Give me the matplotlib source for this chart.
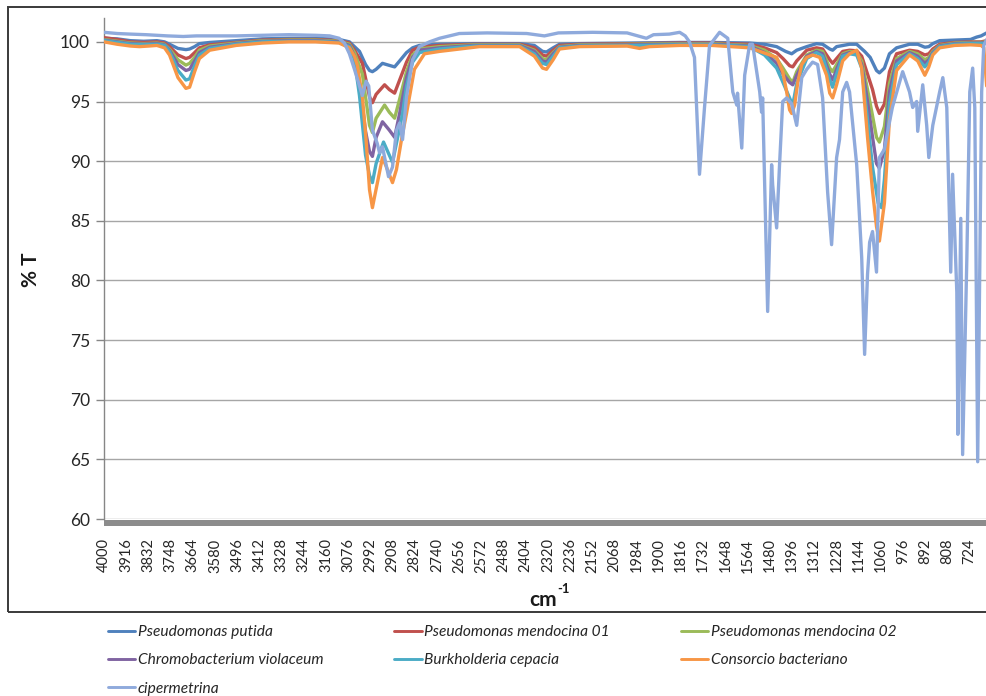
import matplotlib
matplotlib.use("Agg")
import matplotlib.pyplot as plt
from matplotlib.patches import Rectangle
import matplotlib.transforms as mtransforms

# ---------------- data: FTIR transmittance (%T) vs wavenumber (cm^-1) ----------------
wn_putida = [4000, 3950, 3900, 3850, 3800, 3771, 3752, 3720, 3690, 3676, 3657, 3639, 3600, 3500,
             3400, 3300, 3200, 3110, 3071, 3052, 3033, 3010, 2995, 2984, 2970, 2946, 2931, 2900,
             2881, 2855, 2832, 2806, 2730, 2600, 2427, 2371, 2340, 2325, 2300, 2276, 2200, 2000,
             1821, 1700, 1556, 1500, 1454, 1420, 1397, 1378, 1340, 1303, 1280, 1253, 1242, 1227,
             1178, 1151, 1121, 1100, 1076, 1065, 1046, 1027, 1000, 951, 920, 893, 878, 863, 837,
             780, 720, 697, 680, 659]
t_putida = [100.3, 100.25, 100.1, 100.05, 100.1, 100.0, 99.8, 99.45, 99.35, 99.4, 99.6, 99.85, 99.95, 100.1,
            100.25, 100.3, 100.3, 100.2, 100.0, 99.6, 99.2, 98.1, 97.6, 97.5, 97.7, 98.2, 98.1, 97.9,
            98.4, 99.1, 99.5, 99.7, 99.8, 99.85, 99.85, 99.7, 99.2, 99.15, 99.5, 99.8, 99.85, 99.9,
            99.95, 99.95, 99.9, 99.8, 99.6, 99.2, 99.0, 99.3, 99.6, 99.85, 99.8, 99.4, 99.3, 99.6,
            99.8, 99.8, 99.2, 98.7, 97.6, 97.4, 97.8, 99.0, 99.5, 99.8, 99.8, 99.55, 99.6, 99.85, 100.1,
            100.15, 100.2, 100.4, 100.5, 100.75]

wn_mend01 = [4000, 3950, 3900, 3850, 3800, 3771, 3752, 3720, 3690, 3676, 3657, 3639, 3600, 3500,
             3400, 3300, 3200, 3110, 3071, 3052, 3022, 2995, 2984, 2970, 2938, 2920, 2900, 2881,
             2855, 2832, 2806, 2730, 2600, 2427, 2371, 2340, 2325, 2300, 2276, 2200, 2000, 1821,
             1700, 1556, 1500, 1454, 1430, 1405, 1393, 1378, 1340, 1303, 1280, 1253, 1242, 1227,
             1204, 1178, 1151, 1132, 1110, 1091, 1076, 1065, 1046, 1027, 1000, 951, 920, 893, 878,
             863, 837, 780, 720, 680, 659]
t_mend01 = [100.35, 100.2, 100.0, 99.95, 100.0, 99.9, 99.6, 98.9, 98.6, 98.7, 99.1, 99.5, 99.75, 99.95,
            100.15, 100.2, 100.2, 100.1, 99.9, 99.3, 98.2, 95.4, 94.9, 95.6, 96.4, 96.0, 95.7, 96.8,
            98.3, 99.3, 99.55, 99.7, 99.8, 99.8, 99.5, 98.9, 98.8, 99.3, 99.7, 99.8, 99.85, 99.9,
            99.9, 99.8, 99.5, 99.1, 98.6, 98.0, 97.9, 98.4, 99.3, 99.5, 99.4, 98.5, 98.2, 98.6,
            99.2, 99.3, 99.25, 98.8, 97.3, 96.0, 94.6, 94.0, 94.8, 97.5, 99.0, 99.3, 99.2, 98.9, 99.0,
            99.4, 99.8, 99.95, 100.0, 100.0, 100.1]

wn_mend02 = [4000, 3900, 3850, 3800, 3771, 3752, 3720, 3690, 3676, 3657, 3639, 3600, 3500, 3400,
             3300, 3200, 3110, 3071, 3052, 3022, 2995, 2984, 2970, 2938, 2920, 2900, 2881, 2855,
             2832, 2806, 2730, 2600, 2427, 2371, 2340, 2325, 2300, 2276, 2200, 2000, 1821, 1700,
             1556, 1500, 1454, 1430, 1405, 1393, 1378, 1340, 1303, 1280, 1253, 1242, 1227, 1204,
             1178, 1151, 1132, 1110, 1091, 1076, 1065, 1046, 1027, 1000, 951, 920, 893, 878, 863,
             837, 780, 720, 680, 659]
t_mend02 = [100.2, 99.9, 99.85, 99.9, 99.8, 99.4, 98.5, 98.05, 98.2, 98.7, 99.3, 99.65, 99.9, 100.1,
            100.15, 100.15, 100.05, 99.8, 99.1, 97.3, 93.0, 92.4, 93.6, 94.7, 94.1, 93.6, 95.2, 97.5,
            98.9, 99.4, 99.6, 99.75, 99.75, 99.3, 98.6, 98.5, 99.1, 99.6, 99.75, 99.8, 99.85, 99.85,
            99.7, 99.3, 98.6, 97.8, 96.9, 96.6, 97.5, 98.9, 99.3, 99.2, 97.8, 97.5, 98.1, 99.0,
            99.2, 99.1, 98.4, 96.0, 93.8, 92.0, 91.6, 92.9, 96.5, 98.6, 99.2, 99.0, 98.5, 98.7, 99.2,
            99.7, 99.9, 99.95, 99.95, 100.0]

wn_chromo = [4000, 3900, 3850, 3800, 3771, 3752, 3720, 3690, 3676, 3657, 3639, 3600, 3500, 3400,
             3300, 3200, 3110, 3071, 3052, 3033, 3010, 2995, 2984, 2970, 2946, 2920, 2900, 2881,
             2855, 2832, 2806, 2730, 2600, 2427, 2371, 2340, 2325, 2300, 2276, 2200, 2000, 1821,
             1700, 1556, 1500, 1454, 1430, 1405, 1393, 1378, 1340, 1303, 1280, 1253, 1242, 1227,
             1204, 1178, 1151, 1132, 1110, 1091, 1076, 1065, 1046, 1027, 1000, 951, 920, 893, 878,
             863, 837, 780, 720, 680, 659]
t_chromo = [100.15, 99.85, 99.8, 99.85, 99.75, 99.3, 98.1, 97.6, 97.7, 98.4, 99.1, 99.55, 99.85, 100.05,
            100.1, 100.1, 100.0, 99.7, 98.8, 96.5, 92.5, 90.8, 90.4, 92.0, 93.3, 92.6, 92.0, 94.0,
            97.0, 98.7, 99.3, 99.5, 99.7, 99.7, 99.2, 98.4, 98.3, 99.0, 99.55, 99.7, 99.75, 99.8,
            99.8, 99.65, 99.1, 98.2, 97.3, 96.6, 96.4, 97.2, 98.8, 99.2, 99.0, 97.3, 96.8, 97.7,
            98.9, 99.1, 99.0, 98.1, 95.0, 92.0, 89.8, 89.4, 91.0, 95.8, 98.4, 99.1, 98.8, 98.2, 98.5,
            99.1, 99.65, 99.85, 99.9, 99.9, 99.95]

wn_burk = [4000, 3900, 3850, 3800, 3771, 3752, 3720, 3690, 3676, 3657, 3639, 3600, 3500, 3400,
           3300, 3200, 3110, 3071, 3052, 3033, 3010, 2995, 2984, 2970, 2942, 2920, 2908, 2893,
           2870, 2855, 2832, 2806, 2730, 2600, 2427, 2371, 2340, 2325, 2300, 2276, 2200, 2000,
           1821, 1700, 1556, 1500, 1454, 1430, 1405, 1393, 1378, 1340, 1303, 1280, 1253, 1242,
           1227, 1204, 1178, 1151, 1132, 1110, 1091, 1070, 1057, 1046, 1027, 1000, 951, 920, 893,
           878, 863, 837, 780, 720, 680, 659]
t_burk = [100.1, 99.8, 99.75, 99.8, 99.7, 99.2, 97.6, 96.8, 96.9, 98.0, 98.9, 99.45, 99.8, 100.0,
          100.05, 100.05, 99.95, 99.6, 98.5, 95.5, 90.5, 88.8, 88.2, 89.8, 91.6, 90.5, 89.9, 91.5,
          94.0, 96.3, 98.3, 99.1, 99.4, 99.65, 99.65, 99.0, 98.2, 98.1, 98.8, 99.5, 99.65, 99.7,
          99.75, 99.75, 99.6, 98.9, 97.8, 96.6, 95.3, 94.7, 96.5, 98.6, 99.1, 98.8, 96.8, 96.2,
          97.3, 98.8, 99.0, 98.9, 97.8, 93.5, 89.5, 86.5, 86.1, 88.5, 94.8, 98.1, 99.0, 98.6, 97.9,
          98.3, 99.0, 99.6, 99.8, 99.85, 99.85, 99.9]

wn_consorcio = [4000, 3950, 3900, 3866, 3830, 3800, 3771, 3752, 3720, 3690, 3676, 3657, 3639, 3600,
                3500, 3400, 3300, 3200, 3110, 3071, 3052, 3041, 3022, 3008, 2995, 2984, 2976, 2946,
                2931, 2908, 2893, 2874, 2855, 2825, 2787, 2730, 2692, 2579, 2427, 2371, 2340, 2325,
                2300, 2276, 2200, 2020, 1973, 1935, 1821, 1700, 1556, 1492, 1454, 1431, 1416, 1405,
                1397, 1386, 1374, 1359, 1340, 1318, 1291, 1265, 1253, 1242, 1227, 1204, 1178, 1151,
                1132, 1110, 1091, 1076, 1065, 1046, 1027, 1000, 951, 920, 893, 878, 863, 837, 780,
                720, 680, 670, 659]
t_consorcio = [100.0, 99.8, 99.65, 99.6, 99.65, 99.7, 99.5, 98.9, 97.0, 96.1, 96.2, 97.5, 98.6, 99.3,
               99.7, 99.9, 100.0, 100.0, 99.9, 99.5, 98.8, 98.0, 95.4, 91.8, 87.6, 86.1, 87.0, 90.3,
               89.5, 88.2, 89.3, 91.8, 94.0, 97.7, 99.0, 99.2, 99.3, 99.6, 99.6, 98.8, 97.8, 97.7,
               98.5, 99.4, 99.6, 99.65, 99.45, 99.6, 99.7, 99.7, 99.5, 99.0, 98.7, 97.5, 95.8, 94.3,
               94.0, 94.7, 96.6, 98.1, 98.7, 98.9, 98.7, 97.2, 95.7, 95.3, 96.4, 98.4, 99.0, 99.3,
               97.8, 92.0, 87.5, 84.5, 83.3, 86.5, 93.5, 97.6, 98.9, 98.4, 97.2, 97.9, 98.9, 99.5, 99.7,
               99.75, 99.7, 99.5, 96.3]

wn_ciper = [4000, 3950, 3900, 3840, 3800, 3760, 3700, 3650, 3600, 3500, 3400, 3300, 3200, 3146,
            3110, 3090, 3071, 3052, 3022, 3008, 2998, 2984, 2966, 2957, 2946, 2923, 2908, 2893,
            2881, 2870, 2855, 2832, 2806, 2768, 2730, 2655, 2550, 2400, 2333, 2280, 2150, 2020,
            1947, 1920, 1860, 1821, 1800, 1784, 1765, 1746, 1727, 1708, 1670, 1639, 1620, 1605,
            1602, 1586, 1575, 1556, 1545, 1518, 1511, 1507, 1488, 1473, 1469, 1454, 1443, 1431,
            1416, 1397, 1378, 1359, 1340, 1318, 1299, 1280, 1261, 1246, 1227, 1216, 1204, 1189,
            1178, 1151, 1132, 1121, 1110, 1102, 1091, 1076, 1065, 1046, 1038, 1016, 989, 977, 951,
            939, 924, 920, 901, 886, 878, 863, 837, 825, 810, 795, 788, 772, 768, 757, 750, 734,
            723, 712, 704, 693, 678, 670, 659]
t_ciper = [100.8, 100.7, 100.65, 100.6, 100.55, 100.5, 100.45, 100.5, 100.5, 100.5, 100.55, 100.6, 100.55, 100.5,
           100.3, 99.9, 99.0, 97.7, 95.5, 96.7, 96.3, 92.6, 91.5, 90.7, 91.2, 88.7, 89.5, 92.6,
           93.2, 91.8, 95.4, 98.5, 99.6, 100.0, 100.3, 100.7, 100.75, 100.7, 100.5, 100.75, 100.8, 100.75,
           100.3, 100.6, 100.65, 100.8, 100.5, 100.0, 98.7, 88.9, 94.5, 99.7, 100.8, 100.3, 95.8, 94.7,
           95.7, 91.1, 97.2, 99.8, 99.8, 95.8, 94.1, 95.3, 77.4, 89.7, 88.0, 84.4, 89.7, 95.0,
           95.3, 94.8, 93.0, 97.0, 97.7, 98.3, 98.1, 95.3, 87.4, 83.0, 90.3, 91.8, 95.8, 96.6,
           95.8, 89.7, 81.9, 73.8, 80.5, 83.2, 84.1, 80.7, 90.3, 91.0, 92.0, 94.5, 96.6, 97.5, 95.8,
           94.5, 95.0, 92.5, 96.4, 93.0, 90.3, 93.0, 95.8, 97.0, 94.5, 80.7, 88.9, 79.0, 67.1, 85.2, 65.4, 81.9,
           95.8, 97.8, 94.5, 64.8, 95.8, 99.7, 100.2]

series_names = ["Pseudomonas putida", "Pseudomonas mendocina 01", "Pseudomonas mendocina 02",
                "Chromobacterium violaceum", "Burkholderia cepacia", "Consorcio bacteriano",
                "cipermetrina"]
series_colors = ["#4F81BD", "#C0504D", "#9BBB59", "#8064A2", "#4BACC6", "#F79646", "#8FAADC"]

x_tick_values = [4000 - 84 * k for k in range(40)]
y_tick_values = [60, 65, 70, 75, 80, 85, 90, 95, 100]

# ---------------- figure ----------------
plt.rcParams["font.family"] = ["Lato", "DejaVu Sans"]
W, H = 987, 696
fig = plt.figure(figsize=(W / 100, H / 100), dpi=100)
fig.patch.set_facecolor("white")

def fx(px):
    return px / W

def fy(py):
    return (H - py) / H

ax_left, ax_right, ax_top, ax_bottom = 104, 987, 18, 519
ax = fig.add_axes([fx(ax_left), fy(ax_bottom), fx(ax_right - ax_left), (ax_bottom - ax_top) / H])

px_per_wn = (970 - 104.5) / (4000 - 724)
ax.set_xlim(4000, 4000 - (ax_right - ax_left) / px_per_wn)
ax.set_ylim(60, 102.0)

xs = [wn_putida, wn_mend01, wn_mend02, wn_chromo, wn_burk, wn_consorcio, wn_ciper]
ys = [t_putida, t_mend01, t_mend02, t_chromo, t_burk, t_consorcio, t_ciper]
lines = []
for i, (xv, yv) in enumerate(zip(xs, ys)):
    ln, = ax.plot(xv, yv, color=series_colors[i], lw=2.4, solid_joinstyle="round",
                  solid_capstyle="round", zorder=3 + i)
    lines.append(ln)

# gridlines and axes styling
ax.set_yticks(y_tick_values)
ax.set_yticklabels([str(v) for v in y_tick_values])
ax.yaxis.grid(True, color="#A6A6A6", lw=1.0)
ax.set_axisbelow(True)
ax.set_xticks(x_tick_values)
ax.set_xticklabels([str(v) for v in x_tick_values], rotation=90, va="top", ha="center")
ax.tick_params(axis="x", length=0, pad=14, labelsize=10.5, labelcolor="#262626")
ax.tick_params(axis="y", length=6, width=1, color="#868686", pad=4, labelsize=12.5,
               labelcolor="#262626")
for side in ("top", "right", "bottom"):
    ax.spines[side].set_visible(False)
ax.spines["left"].set_color("#868686")
ax.spines["left"].set_linewidth(1.0)

# floor band along the baseline
floor = Rectangle((0, 59.45), 1.0, 0.5,
                  transform=mtransforms.blended_transform_factory(ax.transAxes, ax.transData),
                  facecolor="#8C8C8C", edgecolor="none", clip_on=False, zorder=2)
ax.add_patch(floor)

# axis titles
fig.text(fx(31), fy(270), "% T", rotation=90, ha="center", va="center",
         fontsize=15, fontweight="bold", color="#1a1a1a")
fig.text(fx(557), fy(606), "cm", ha="right", va="baseline",
         fontsize=15, fontweight="bold", color="#1a1a1a")
fig.text(fx(557), fy(593), "-1", ha="left", va="baseline",
         fontsize=9.5, fontweight="bold", color="#1a1a1a")

# chart border
fig.patches.append(Rectangle((fx(8), fy(612)), fx(1010 - 8), (612 - 7) / H,
                             transform=fig.transFigure, fill=False,
                             edgecolor="#3a3a3a", lw=1.4))

# legend, filled row by row in three columns
order = [0, 3, 6, 1, 4, 2, 5]
leg = fig.legend([lines[i] for i in order], [series_names[i] for i in order],
                 ncol=3, loc="upper left", bbox_to_anchor=(fx(108), fy(625)),
                 frameon=False, borderpad=0, borderaxespad=0,
                 handlelength=1.75, handletextpad=0.18, columnspacing=4.55,
                 labelspacing=0.92, prop={"family": ["Lato", "DejaVu Sans"],
                                          "style": "italic", "size": 11.2})
for t in leg.get_texts():
    t.set_color("#262626")
for h in leg.legend_handles:
    h.set_linewidth(2.1)

fig.savefig("out.png", dpi=100, facecolor="white")
